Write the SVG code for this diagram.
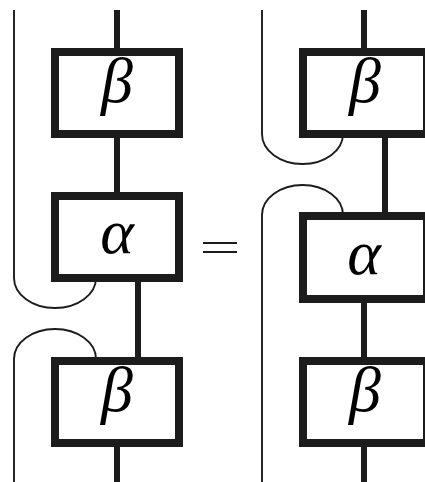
<svg xmlns="http://www.w3.org/2000/svg" width="425" height="482" viewBox="0 0 425 482">
<style>
.box{fill:#fff;stroke:#1c1c1c;stroke-width:8}
.wire{stroke:#1c1c1c;stroke-width:6;fill:none}
.thin{stroke:#1c1c1c;stroke-width:1.9;fill:none}
.lbl{font-family:"Liberation Serif",serif;font-style:italic;font-size:64px;fill:#000;text-anchor:middle}
</style>
<rect width="425" height="482" fill="#fff"/>
<g id="connectors">
<path class="thin" d="M14,10 V278 A41,30 0 0 0 96,278"/>
<path class="thin" d="M14,482 V359 A41,30 0 0 1 96,359"/>
<path class="thin" d="M262,10 V134 A40.5,30 0 0 0 343,134"/>
<path class="thin" d="M262,482 V215 A40.5,30 0 0 1 343,215"/>
<path class="wire" d="M117,10 V52 M117,134 V196 M138,278 V361 M117,443 V482"/>
<path class="wire" d="M364,10 V52 M385,134 V216 M364,299 V361 M364,443 V482"/>
</g>
<g id="L_beta1"><rect class="box" x="55" y="52" width="124" height="82"/><text class="lbl" x="117" y="102">β</text></g>
<g id="L_alpha"><rect class="box" x="55" y="196" width="124" height="82"/><text class="lbl" x="117" y="253">α</text></g>
<g id="L_beta2"><rect class="box" x="55" y="361" width="124" height="82"/><text class="lbl" x="117" y="411">β</text></g>
<g id="R_beta1"><rect class="box" x="303" y="52" width="124" height="82"/><text class="lbl" x="365" y="102">β</text></g>
<g id="R_alpha"><rect class="box" x="303" y="216" width="124" height="83"/><text class="lbl" x="364" y="274">α</text></g>
<g id="R_beta2"><rect class="box" x="303" y="361" width="124" height="82"/><text class="lbl" x="365" y="411">β</text></g>
<g id="equals" stroke="#1c1c1c" stroke-width="1.8"><line x1="203" y1="243" x2="237" y2="243"/><line x1="203" y1="252" x2="237" y2="252"/></g>
</svg>
